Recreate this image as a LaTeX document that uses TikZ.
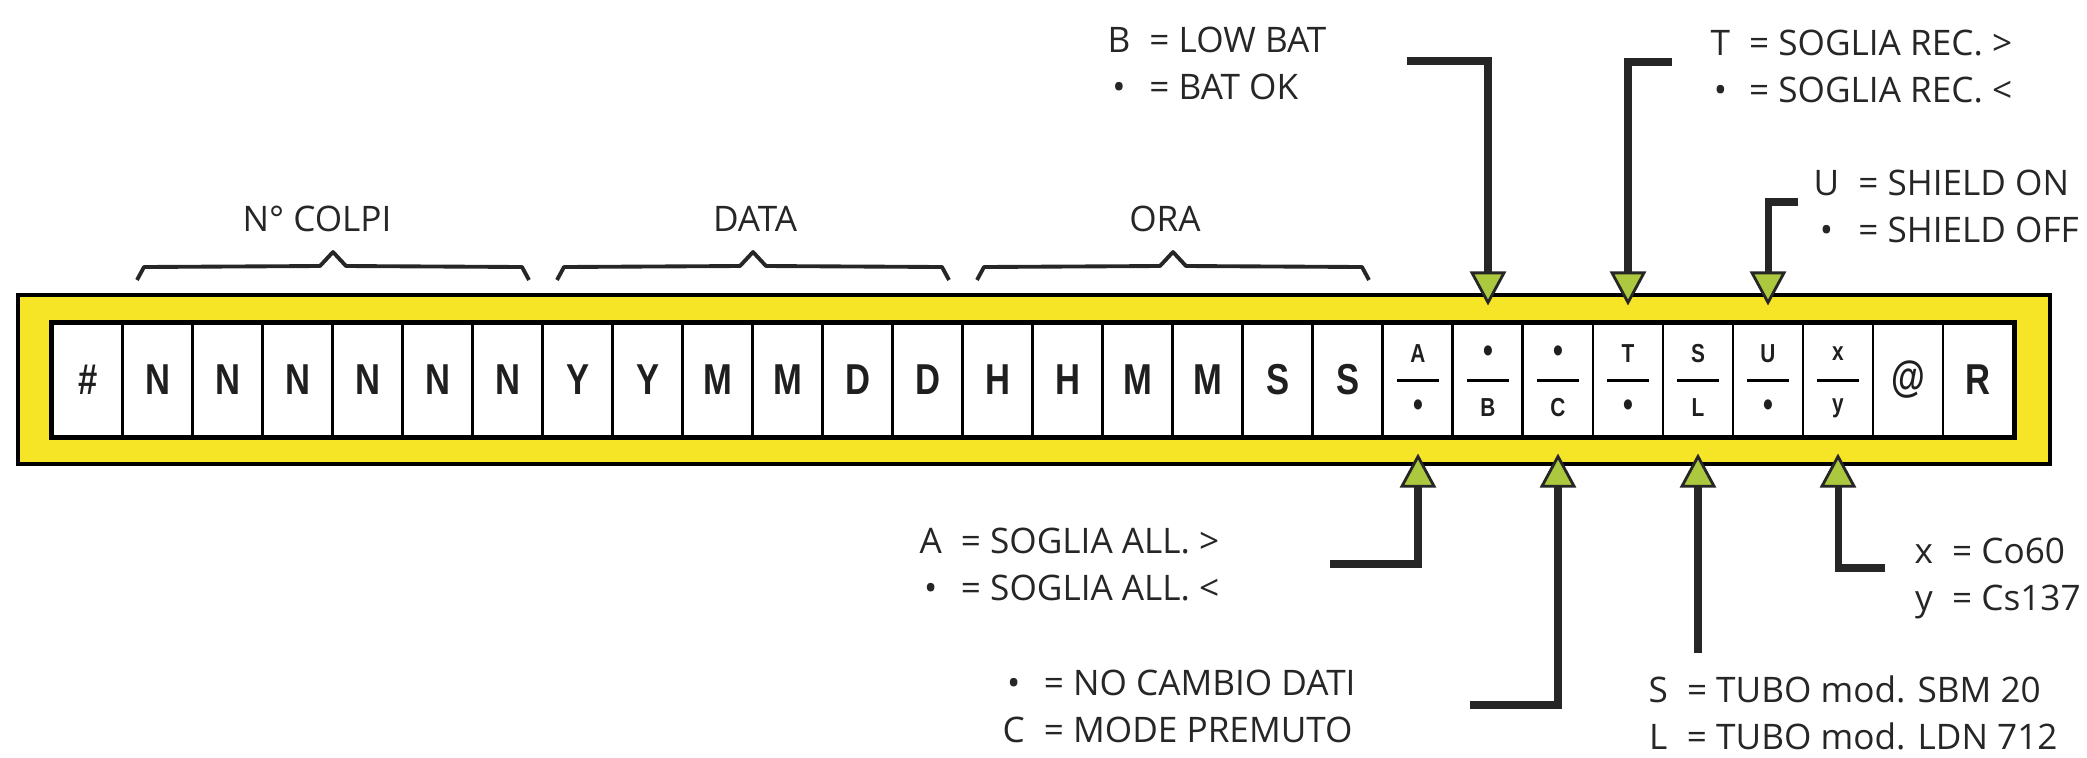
\documentclass[tikz,border=0pt]{standalone}
\usepackage{fontspec}
\setmainfont{Open Sans}
\newfontfamily\cellfont[FakeStretch=0.8]{Liberation Sans}
\usepackage{xcolor}
\usepackage{tikz}
\usetikzlibrary{arrows.meta}

\definecolor{bandyellow}{RGB}{246,228,38}
\definecolor{tipgreen}{RGB}{172,200,62}
\definecolor{inkgray}{RGB}{38,38,38}

\newcommand{\legendpair}[4]{%
  \begin{tabular}[t]{@{}c@{\hspace{5.4pt}}l@{}}#1 & = #2\\ #3 & = #4\end{tabular}}
\newcommand{\celldot}{{\fontsize{10}{10}\selectfont\textbullet}}

\begin{document}
\begin{tikzpicture}[x=0.01cm, y=-0.01cm,
    cell/.style={draw, fill=white, line width=0.85pt, minimum width=0.7cm,
      minimum height=1.12cm, inner sep=0pt, text=black!88,
      font=\cellfont\bfseries\fontsize{12.3}{14}\selectfont},
    small/.style={inner sep=0pt, text=black!88,
      font=\cellfont\bfseries\fontsize{7.4}{8}\selectfont},
    legend/.style={anchor=base west, inner sep=0pt, text=inkgray,
      font=\fontsize{10}{13.5}\selectfont},
    head/.style={anchor=base, inner sep=0pt, text=inkgray,
      font=\fontsize{10}{13.5}\selectfont},
    brace/.style={draw=inkgray, line width=1.1pt, line join=round},
    lead/.style={draw=inkgray, line width=2pt,
      -{Triangle[length=0.34cm, width=0.36cm, fill=tipgreen, line width=0.8pt]}}]
  \useasboundingbox (0,0) rectangle (2087,757);

  % yellow frame
  \draw[fill=bandyellow, line width=1.3pt] (18,295) rectangle (2050,464);

  % the record fields
  \foreach \lab [count=\i] in {\#,N,N,N,N,N,N,Y,Y,M,M,D,D,H,H,M,M,S,S}
    \node[cell] (c\i) at ({18+70*\i},380) {\lab};
  \foreach \up/\dn [count=\i from 20] in {A/\celldot, \celldot/B, \celldot/C,
      T/\celldot, S/L, U/\celldot, x/y} {
    \node[cell] (c\i) at ({18+70*\i},380) {};
    \draw[line width=0.85pt] ([xshift=-0.21cm]c\i.center) -- ([xshift=0.21cm]c\i.center);
    \node[small] at ([yshift=0.26cm]c\i.center) {\up};
    \node[small] at ([yshift=-0.28cm]c\i.center) {\dn};
  }
  \node[cell] (c27) at (1908,380) {@};
  \node[cell] (c28) at (1978,380) {R};
  \draw[line width=1.2pt] (c1.north west) rectangle (c28.south east);

  % groups above the fields
  \foreach \a/\b/\lab/\dx in {2/7/{N° COLPI}/-16, 8/13/DATA/2, 14/19/ORA/-8} {
    \pgfmathsetmacro\xl{70*\a-3}
    \pgfmathsetmacro\xr{70*\b+39}
    \pgfmathsetmacro\xm{(\xl+\xr)/2}
    \draw[brace] (\xl,280) -- (\xl+7,267) -- (\xm-13,266) -- (\xm,252)
      -- (\xm+13,266) -- (\xr-7,267) -- (\xr,280);
    \node[head] (h\a) at (\xm+\dx,231) {\lab};
  }

  % legends
  \node[legend] (keyB) at (1107,52) {\legendpair{B}{LOW BAT}{\textbullet}{BAT OK}};
  \node[legend] (keyT) at (1710,55) {\legendpair{T}{SOGLIA REC. >}{\textbullet}{SOGLIA REC. <}};
  \node[legend] (keyU) at (1813,195) {\legendpair{U}{SHIELD ON}{\textbullet}{SHIELD OFF}};
  \node[legend] (keyA) at (919,553) {\legendpair{A}{SOGLIA ALL. >}{\textbullet}{SOGLIA ALL. <}};
  \node[legend] (keyC) at (1002,695) {\legendpair{\textbullet}{NO CAMBIO DATI}{C}{MODE PREMUTO}};
  \node[legend] (keySL) at (1648,702) {\legendpair{S}{TUBO mod. SBM 20}{L}{TUBO mod. LDN 712}};
  \node[legend] (keyXY) at (1914,563) {\legendpair{x}{Co60}{y}{Cs137}};

  % pointers
  \coordinate (stubB) at (1407,61);
  \coordinate (stubT) at (1672,62);
  \coordinate (stubU) at (1798,202);
  \coordinate (stubA) at (1330,564);
  \coordinate (stubC) at (1470,705);
  \coordinate (stubSL) at (1698,653);
  \coordinate (stubXY) at (1885,568);
  \draw[lead] (stubB) -| ([yshift=0.17cm]c21.north);
  \draw[lead] (stubT) -| ([yshift=0.17cm]c23.north);
  \draw[lead] (stubU) -| ([yshift=0.17cm]c25.north);
  \draw[lead] (stubA) -| ([yshift=-0.16cm]c20.south);
  \draw[lead] (stubC) -| ([yshift=-0.16cm]c22.south);
  \draw[lead] (stubSL) -- ([yshift=-0.16cm]c24.south);
  \draw[lead] (stubXY) -| ([yshift=-0.16cm]c26.south);
\end{tikzpicture}
\end{document}
